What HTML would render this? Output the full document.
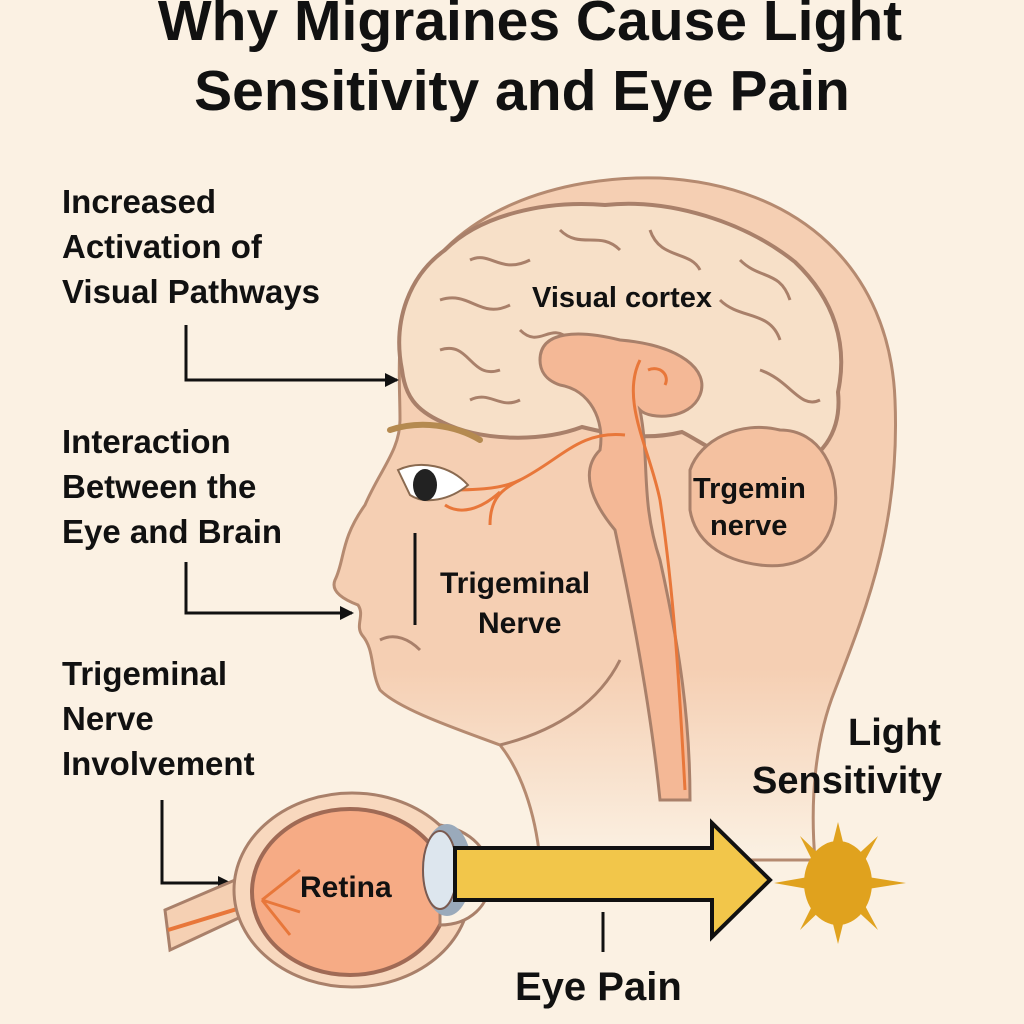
<!DOCTYPE html>
<html><head><style>
html,body{margin:0;padding:0;background:#fbf1e3;}
svg{display:block}
text{font-family:"Liberation Sans","DejaVu Sans",sans-serif;fill:#111;font-weight:bold;}
</style></head><body>
<svg width="1024" height="1024" viewBox="0 0 1024 1024" xmlns="http://www.w3.org/2000/svg">
<defs>
<linearGradient id="fade" x1="0" y1="0" x2="0" y2="1">
<stop offset="0" stop-color="#f5cfb3"/><stop offset="0.72" stop-color="#f5cfb3"/><stop offset="1" stop-color="#fbf1e3"/>
</linearGradient>
<marker id="ah" markerWidth="14" markerHeight="14" refX="12" refY="7" orient="auto" markerUnits="userSpaceOnUse">
<path d="M0,0 L14,7 L0,14 z" fill="#111"/></marker>
</defs>
<rect width="1024" height="1024" fill="#fbf1e3"/>
<text x="530" y="40" font-size="57" text-anchor="middle">Why Migraines Cause Light</text>
<text x="522" y="110" font-size="57" text-anchor="middle">Sensitivity and Eye Pain</text>

<!-- head -->
<path d="M410,300 C450,210 560,175 660,178 C800,185 890,270 895,400 C900,520 870,600 835,690 C815,740 810,800 815,860 L540,860 C535,810 520,770 500,745 C460,730 400,710 380,690 C370,670 375,650 362,635 C355,625 365,615 358,605 C345,600 330,592 335,580 C345,560 340,540 365,505 C380,470 400,450 400,420 C400,380 395,340 410,300 Z" fill="url(#fade)" stroke="#b58a70" stroke-width="3"/>
<!-- brain -->
<path d="M402,370 C392,320 410,275 445,250 C480,215 545,200 605,205 C670,198 745,222 795,262 C835,300 848,345 838,392 C842,432 822,462 782,472 C742,472 702,442 682,432 C642,442 602,432 582,427 C542,442 482,442 442,422 C415,410 405,395 402,370 Z" fill="#f7e0c8" stroke="#a9806a" stroke-width="4"/>
<g fill="none" stroke="#a9806a" stroke-width="3">
<path d="M440,300 C470,290 480,320 510,305 M470,260 C490,250 500,275 530,260 M560,230 C580,250 600,230 620,250 M650,230 C660,260 690,250 700,270 M740,260 C760,280 780,270 790,300 M440,350 C470,340 470,380 500,370 M520,330 C540,350 550,320 570,340 M720,300 C740,320 770,310 780,340 M760,370 C790,380 800,410 820,400 M470,400 C490,390 500,410 520,400"/>
</g>
<!-- cerebellum -->
<path d="M690,470 C700,440 740,420 780,430 C820,430 840,470 835,510 C830,550 800,570 760,565 C720,560 695,540 690,510 Z" fill="#f4c1a0" stroke="#a9806a" stroke-width="3"/>
<!-- inner brain / stem -->
<path d="M540,360 C540,330 580,330 620,340 C680,345 710,370 700,395 C690,420 650,420 640,410 C650,460 640,500 660,560 C680,650 690,720 690,800 L660,800 C650,700 630,600 615,530 C590,500 580,470 600,450 C605,420 590,390 560,385 C545,380 540,370 540,360 Z" fill="#f4b896" stroke="#a9806a" stroke-width="3"/>
<g fill="none" stroke="#e8773a" stroke-width="3">
<path d="M640,360 C620,400 650,450 660,500 C675,600 680,700 685,790"/>
<path d="M648,370 C660,365 670,375 665,385"/>
<path d="M625,435 C580,430 560,460 520,480 C500,490 470,490 445,490"/>
<path d="M520,480 C500,490 490,500 490,525"/>
<path d="M500,492 C480,510 460,515 445,505"/>
</g>
<!-- brow, eye, face -->
<path d="M390,430 C420,420 455,425 480,440" stroke="#b58a50" stroke-width="6" fill="none" stroke-linecap="round"/>
<path d="M398,470 C420,460 450,465 468,485 C450,500 425,505 410,495 Z" fill="#fff" stroke="#8a6a50" stroke-width="2"/>
<ellipse cx="425" cy="485" rx="12" ry="16" fill="#222"/>
<path d="M380,640 C395,632 410,640 420,650" stroke="#a9806a" stroke-width="3" fill="none"/>
<path d="M620,660 C600,700 560,730 500,745" stroke="#a9806a" stroke-width="3" fill="none"/>

<text x="693" y="498" font-size="29">Trgemin</text>
<text x="710" y="535" font-size="29">nerve</text>
<text x="532" y="307" font-size="29">Visual cortex</text>
<line x1="415" y1="533" x2="415" y2="625" stroke="#111" stroke-width="3"/>
<text x="440" y="593" font-size="30">Trigeminal</text>
<text x="478" y="633" font-size="30">Nerve</text>

<!-- left labels -->
<g font-size="33">
<text x="62" y="213">Increased</text>
<text x="62" y="258">Activation of</text>
<text x="62" y="303">Visual Pathways</text>
<text x="62" y="453">Interaction</text>
<text x="62" y="498">Between the</text>
<text x="62" y="543">Eye and Brain</text>
<text x="62" y="685">Trigeminal</text>
<text x="62" y="730">Nerve</text>
<text x="62" y="775">Involvement</text>
</g>
<g stroke="#111" stroke-width="3" fill="none">
<path d="M186,325 L186,380 L397,380" marker-end="url(#ah)"/>
<path d="M186,562 L186,613 L352,613" marker-end="url(#ah)"/>
<path d="M162,800 L162,883 L230,883" marker-end="url(#ah)"/>
</g>

<!-- eye -->
<path d="M165,910 L235,880 L245,915 L170,950 Z" fill="#f5d0b3" stroke="#a9806a" stroke-width="3"/>
<path d="M168,930 L260,902" stroke="#e8773a" stroke-width="4"/>
<ellipse cx="352" cy="890" rx="118" ry="97" fill="#f8d8be" stroke="#a9806a" stroke-width="3"/>
<ellipse cx="350" cy="892" rx="98" ry="83" fill="#f6ab85" stroke="#a06a55" stroke-width="4"/>
<path d="M262,900 L300,870 M262,900 L300,912 M262,900 L290,935" stroke="#e8773a" stroke-width="3"/>
<path d="M440,825 C470,830 492,850 490,880 C490,905 470,925 440,925 Z" fill="#fbf1e3" stroke="#a9806a" stroke-width="3"/>
<ellipse cx="447" cy="870" rx="25" ry="46" fill="#9aaabb"/>
<ellipse cx="440" cy="870" rx="17" ry="39" fill="#dde6ee" stroke="#7a5a50" stroke-width="2"/>
<text x="300" y="897" font-size="30">Retina</text>

<!-- arrow -->
<path d="M455,848 L712,848 L712,823 L770,880 L712,937 L712,900 L455,900 Z" fill="#f2c64a" stroke="#111" stroke-width="4"/>
<!-- sun -->
<g fill="#e0a21e">
<ellipse cx="838" cy="883" rx="34" ry="42"/>
<path d="M838,822 L845,850 L831,850 Z M838,944 L845,916 L831,916 Z M774,883 L808,877 L808,889 Z M906,883 L868,877 L868,889 Z"/>
<path d="M800,836 L825,860 L815,866 Z M878,836 L852,860 L862,866 Z M800,930 L825,906 L815,900 Z M878,930 L852,906 L862,900 Z"/>
</g>
<text x="848" y="745" font-size="38">Light</text>
<text x="752" y="793" font-size="38">Sensitivity</text>
<line x1="603" y1="912" x2="603" y2="952" stroke="#111" stroke-width="3"/>
<text x="515" y="1000" font-size="40">Eye Pain</text>
</svg>
</body></html>
